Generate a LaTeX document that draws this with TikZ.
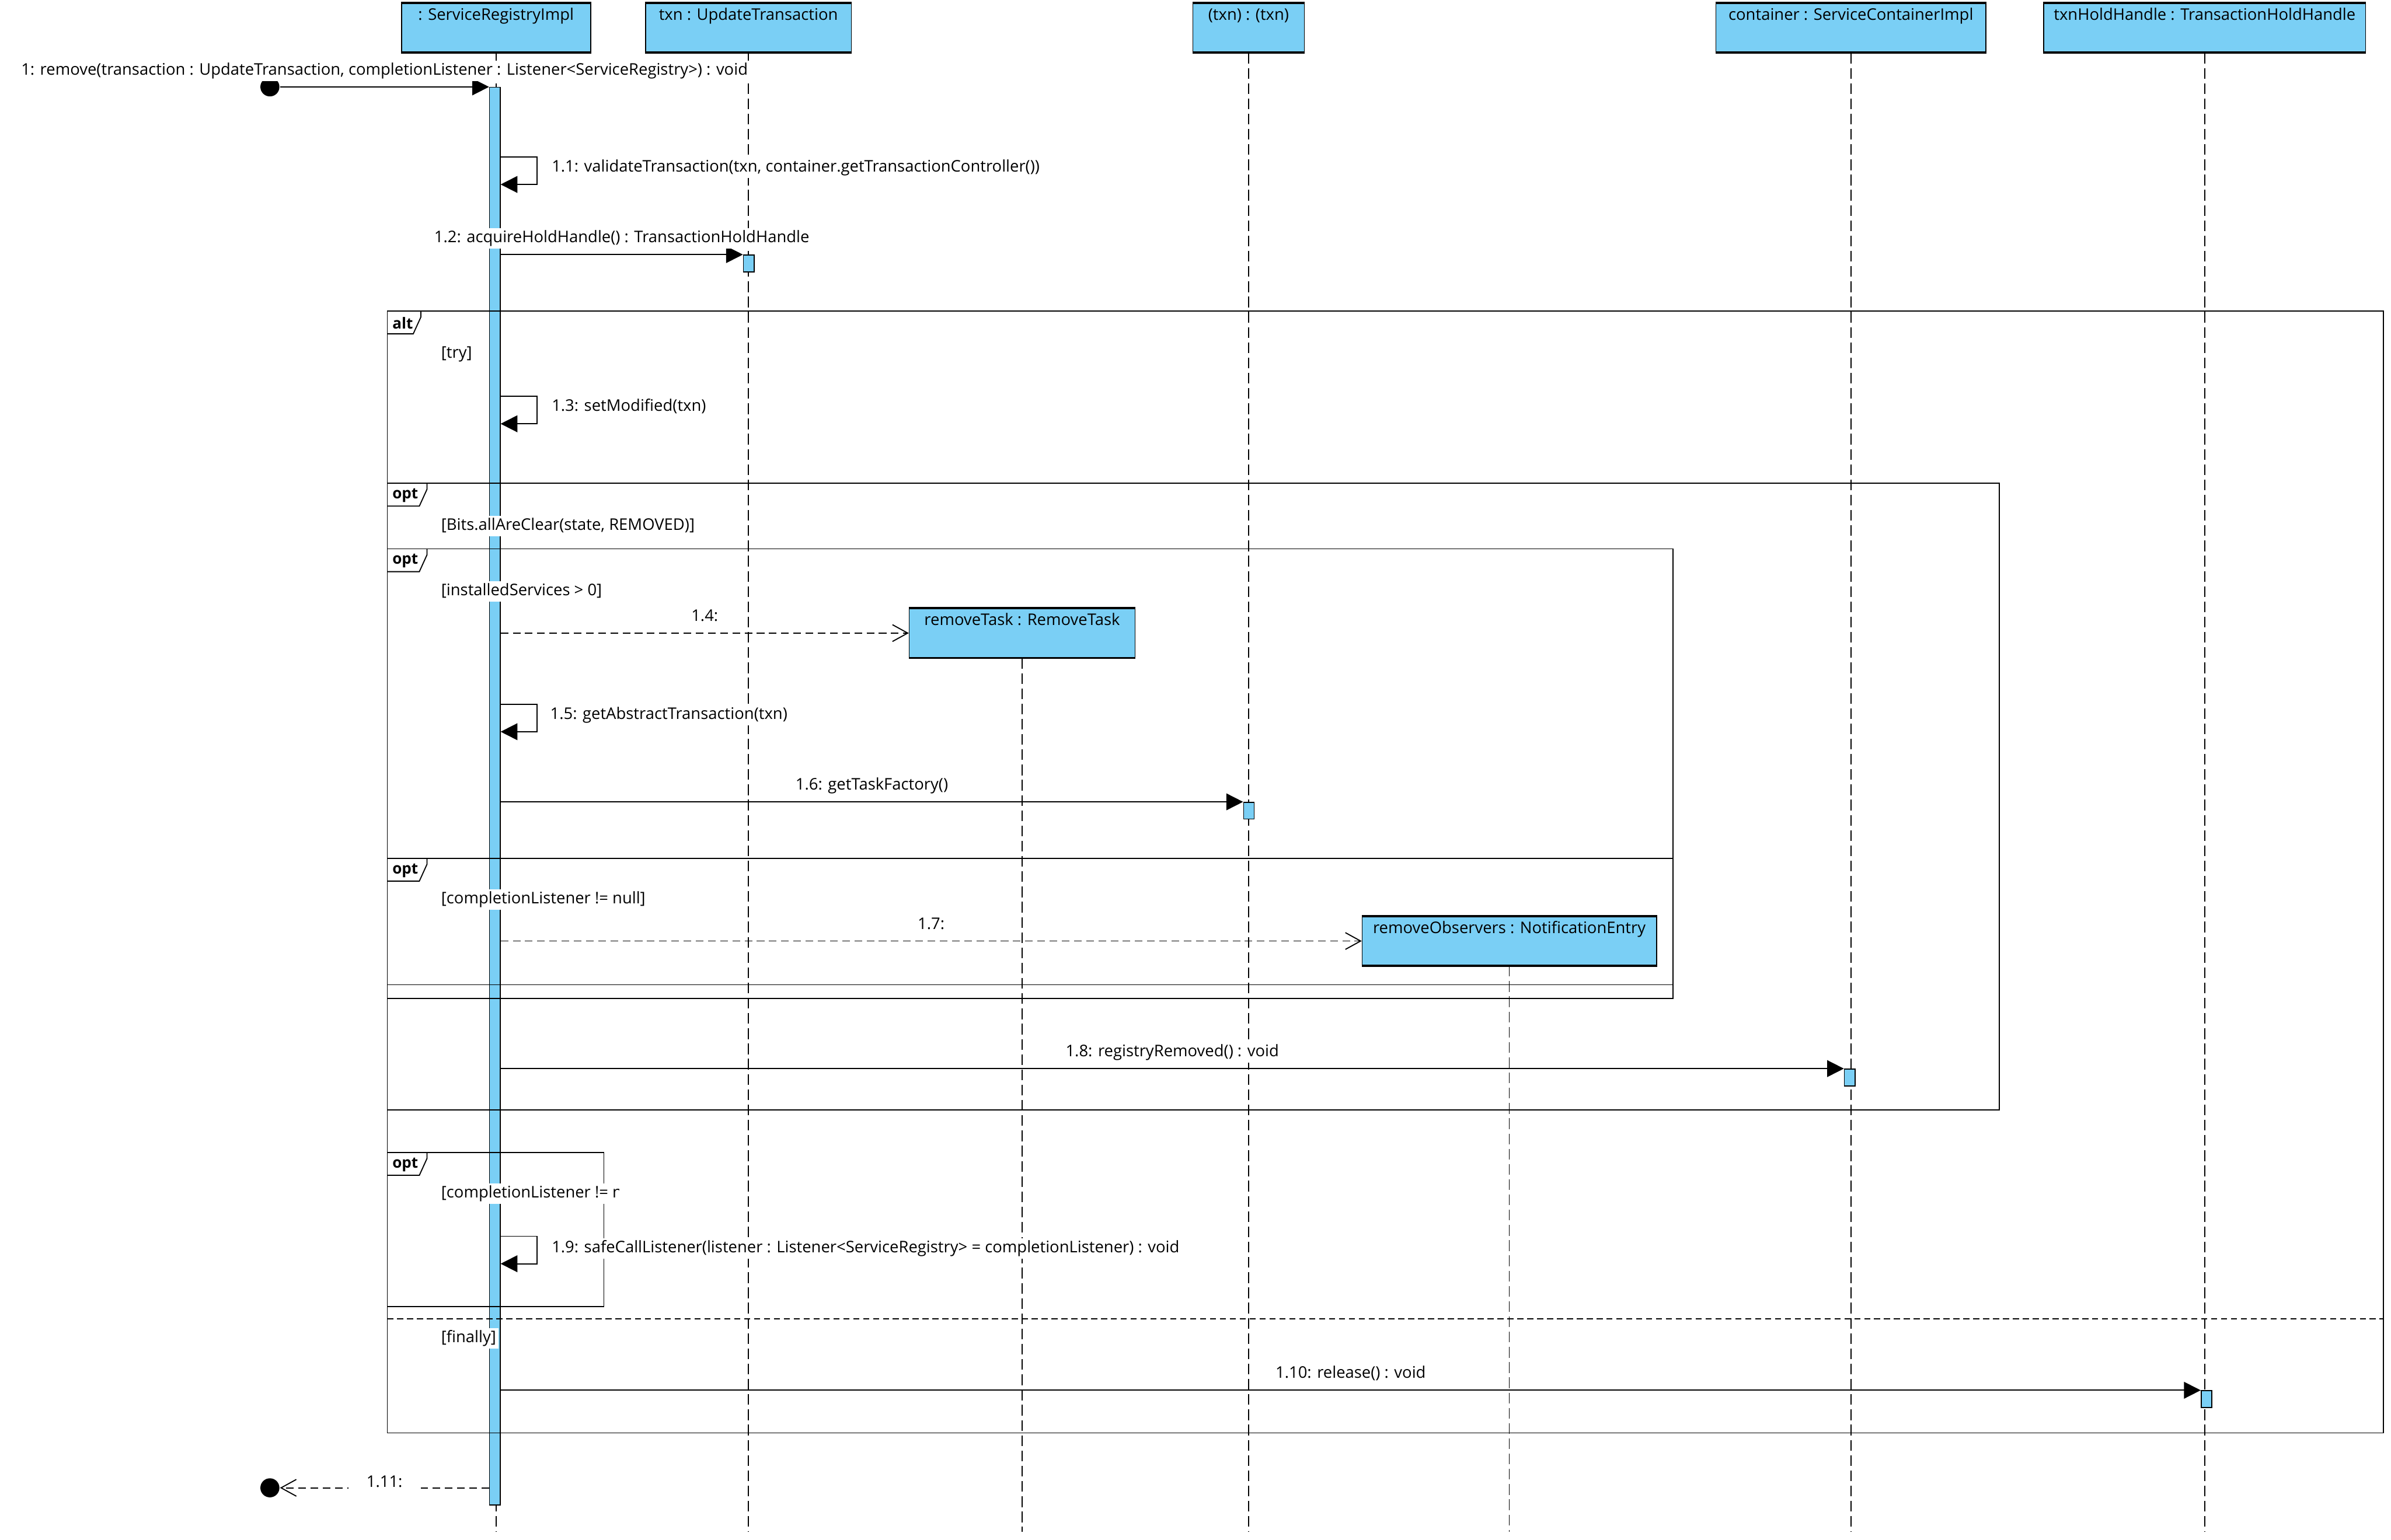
\documentclass[tikz,border=0pt]{standalone}
\usepackage{fontspec}
\setmainfont{Open Sans}
\usepackage{xcolor}
\usetikzlibrary{arrows.meta, positioning}
\definecolor{lifeblue}{RGB}{122,207,245}

\begin{document}
\begin{tikzpicture}[
  x=1pt, y=-1pt,
  >={Triangle[length=11pt, width=11pt]},
  font=\fontsize{10.5}{12.5}\selectfont,
  line width=0.7pt,
  head/.style={draw, fill=lifeblue, line width=0.6pt, anchor=north west, inner xsep=0pt, inner ysep=1pt, minimum height=32pt, text height=10pt, text depth=20pt},
  act/.style={draw, fill=lifeblue, line width=0.6pt, inner sep=0pt, minimum width=7pt, anchor=north},
  lifeline/.style={line width=0.6pt, dash pattern=on 7pt off 3pt},
  call/.style={->},
  create/.style={-{Straight Barb[length=10pt, width=11pt]}, dash pattern=on 5pt off 3pt},
  frame/.style={line width=0.7pt},
  lbl/.style={fill=white, inner sep=1.5pt, text height=8pt, text depth=2.5pt},
  guard/.style={lbl, anchor=west},
  dot/.style={circle, fill=black, inner sep=0pt, minimum size=12.5pt}
]
\useasboundingbox (0,0) rectangle (1568,1010);

% lifeline heads
\node[head, minimum width=124pt] (reg) at (263,2) {: ServiceRegistryImpl};
\node[head, minimum width=135pt] (txn) at (423,2) {txn : UpdateTransaction};
\node[head, minimum width=73pt] (ptxn) at (782,2) {(txn) : (txn)};
\node[head, minimum width=177pt] (cont) at (1125,2) {container : ServiceContainerImpl};
\node[head, minimum width=211pt] (hold) at (1340,2) {txnHoldHandle : TransactionHoldHandle};
\node[head, minimum width=148pt] (task) at (596,399) {removeTask : RemoveTask};
\node[head, minimum width=193pt] (obs) at (893,601) {removeObservers : NotificationEntry};

\coordinate (bottom) at (0,1005);
\foreach \n in {reg,txn,ptxn,cont,hold,task,obs} {
  \draw[lifeline] (\n.south) -- (\n.south |- bottom);
  \draw[line width=1.5pt] (\n.north west) -- (\n.north east) (\n.south west) -- (\n.south east);
}

% activations
\node[act, minimum height=930pt] (bar) at (324.5,57) {};
\node[act, minimum height=11pt] (atxn) at (491,167) {};
\node[act, minimum height=11pt] (aptxn) at (819,526) {};
\node[act, minimum height=11pt] (acont) at (1213,701) {};
\node[act, minimum height=11pt] (ahold) at (1447,912) {};

% fragments
\draw[frame] (254,204) rectangle (1563,940);
\draw[frame] (254,317) rectangle (1311,728);
\draw[frame] (254,360) rectangle (1097,655);
\draw[frame] (254,563) rectangle (1097,646);
\draw[frame] (254,756) rectangle (396,857);
\draw[frame, dash pattern=on 4pt off 2.5pt] (254,865) -- (1563,865);
\foreach \y/\t/\w in {204/alt/22, 317/opt/26, 360/opt/26, 563/opt/26, 756/opt/26} {
  \draw[frame] (254,\y+15) -- (249+\w,\y+15) -- (254+\w,\y+4) -- (254+\w,\y);
  \node[font=\fontsize{10}{12}\selectfont\bfseries, anchor=west, inner sep=0pt] (tag\y) at (257,\y+8) {\t};
}

% guards
\node[guard] (gtry) at (287.5,232) {[try]};
\node[guard] (gbits) at (287.5,345) {[Bits.allAreClear(state, REMOVED)]};
\node[guard] (ginst) at (287.5,388) {[installedServices > 0]};
\node[guard] (gcomp) at (287.5,590) {[completionListener != null]};
\begin{scope}
  \clip (250,760) rectangle (406,810);
  \node[guard] (gcall) at (287.5,783) {[completionListener != null]};
\end{scope}
\node[guard] (gfin) at (287.5,878) {[finally]};

% messages
\node[dot] (start) at (177,57) {};
\node[dot] (stop) at (177,976) {};
\draw[call] (start) -- (bar.north west) node[lbl, midway, above=3.5pt] (m1) {1: remove(transaction : UpdateTransaction, completionListener : Listener<ServiceRegistry>) : void};

\foreach \y/\n in {103/s1, 260/s3, 462/s5, 811/s9} {
  \coordinate (\n) at (bar.east |- 0,\y);
  \draw[call] (\n) -- ++(24,0) -- ++(0,18) -- ++(-24,0);
}
\node[lbl, anchor=west] (l1) at (360,110) {1.1: validateTransaction(txn, container.getTransactionController())};
\node[lbl, anchor=west] (l3) at (360,267) {1.3: setModified(txn)};
\node[lbl, anchor=west] (l5) at (359,469) {1.5: getAbstractTransaction(txn)};
\node[lbl, anchor=west] (l9) at (360,819) {1.9: safeCallListener(listener : Listener<ServiceRegistry> = completionListener) : void};

\draw[call] (bar.east |- atxn.north) -- (atxn.north west) node[lbl, midway, above=3.5pt] (m2) {1.2: acquireHoldHandle() : TransactionHoldHandle};
\draw[create] (bar.east |- task.west) -- (task.west) node[lbl, midway, above=3.5pt] (m4) {1.4:};
\draw[call] (bar.east |- aptxn.north) -- (aptxn.north west) node[lbl, midway, above=3.5pt] (m6) {1.6: getTaskFactory()};
\draw[create] (bar.east |- obs.west) -- (obs.west) node[lbl, midway, above=3.5pt] (m7) {1.7:};
\draw[call] (bar.east |- acont.north) -- (acont.north west) node[lbl, midway, above=3.5pt] (m8) {1.8: registryRemoved() : void};
\draw[call] (bar.east |- ahold.north) -- (ahold.north west) node[lbl, midway, above=3.5pt] (m10) {1.10: release() : void};
\draw[create] (bar.west |- stop) -- (stop) node[lbl, midway, inner xsep=12pt, yshift=3pt] (m11) {1.11:};
\end{tikzpicture}
\end{document}
